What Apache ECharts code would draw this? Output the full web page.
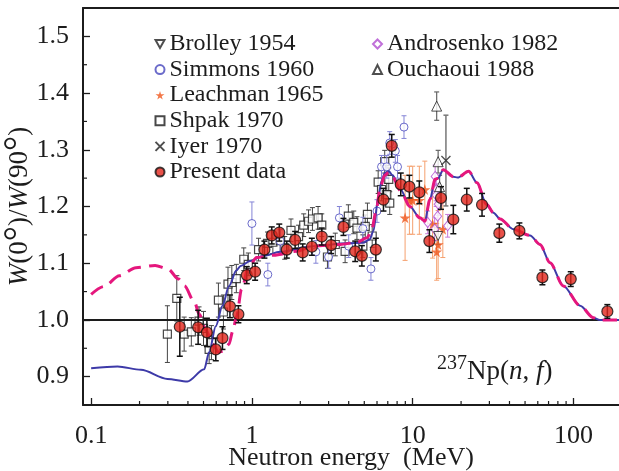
<!DOCTYPE html>
<html><head><meta charset="utf-8">
<script src="https://cdn.jsdelivr.net/npm/echarts@6/dist/echarts.min.js"></script>
<style>html,body{margin:0;padding:0;background:#fff}#c{width:619px;height:471px}</style>
</head><body><div id="c"></div>
<script>
// ---------- data (energy MeV, W(0)/W(90), error) ----------
const xTickValues = [0.1, 1, 10, 100];
const xTickLabels = ['0.1', '1', '10', '100'];
const xMinorTicks = [0.2,0.3,0.4,0.5,0.6,0.7,0.8,0.9, 2,3,4,5,6,7,8,9, 20,30,40,50,60,70,80,90];
const yMinorTicks = [0.95,1.05,1.15,1.25,1.35,1.45];

const presentData = [
[0.356,0.988,0.052],[0.463,0.987,0.03],[0.525,0.978,0.025],[0.596,0.948,0.02],[0.656,0.968,0.02],
[0.73,1.024,0.02],[0.824,1.010,0.015],[0.929,1.079,0.015],[1.047,1.085,0.015],[1.196,1.124,0.015],
[1.329,1.149,0.015],[1.48,1.154,0.015],[1.648,1.124,0.015],[1.857,1.141,0.015],[2.07,1.119,0.015],
[2.36,1.129,0.015],[2.72,1.147,0.015],[3.11,1.132,0.015],[3.71,1.164,0.015],[4.39,1.121,0.018],
[4.83,1.113,0.018],[5.9,1.124,0.02],[6.58,1.212,0.02],[7.41,1.307,0.02],[8.43,1.239,0.02],
[9.54,1.235,0.02],[11.0,1.225,0.02],[12.7,1.139,0.02],[15.0,1.215,0.02],[17.9,1.177,0.025],
[21.7,1.212,0.02],[27.0,1.203,0.02],[34.6,1.153,0.016],[46.1,1.157,0.014],[64.1,1.075,0.013],
[96.2,1.072,0.013],[162.5,1.015,0.012]
];
const shpak = [
[0.298,0.975,0.05],[0.341,1.038,0.04],[0.379,0.975,0.03],[0.42,0.979,0.025],[0.469,0.998,0.025],
[0.50,0.985,0.03],[0.542,0.948,0.025],[0.56,0.96,0.03],[0.619,1.035,0.03],[0.665,1.014,0.03],
[0.71,1.063,0.03],[0.75,1.066,0.03],[0.80,1.073,0.025],[0.89,1.107,0.02],[0.95,1.098,0.02],
[1.1,1.124,0.02],[1.25,1.135,0.02],[1.35,1.137,0.02],[1.5,1.14,0.02],[1.6,1.127,0.02],
[1.75,1.158,0.02],[1.95,1.147,0.02],[2.1,1.167,0.02],[2.25,1.174,0.02],[2.38,1.178,0.02],
[2.58,1.18,0.02],[2.72,1.167,0.02],[2.95,1.111,0.02],[3.3,1.133,0.02],[3.8,1.121,0.02],
[3.98,1.183,0.02],[4.3,1.172,0.02],[4.5,1.162,0.02],[4.9,1.13,0.02],[5.07,1.165,0.02],
[5.23,1.186,0.02],[5.6,1.148,0.02],[6.1,1.243,0.02],[6.4,1.23,0.02],[6.7,1.279,0.02],
[6.9,1.221,0.02],[7.1,1.248,0.02],[7.2,1.206,0.02]
];
const simmons = [
[1.0,1.170,0.038],[1.256,1.080,0.02],[1.5,1.139,0.02],[2.5,1.120,0.02],[3.0,1.111,0.02],
[3.5,1.18,0.02],[4.0,1.130,0.02],[4.9,1.161,0.02],[5.5,1.090,0.02],[6.0,1.192,0.02],
[6.4,1.27,0.02],[6.9,1.27,0.02],[7.2,1.312,0.02],[7.8,1.298,0.02],[8.05,1.27,0.02],[8.83,1.340,0.02]
];
const leachman = [
[8.97,1.180,0.075],[9.54,1.211,0.06],[10.0,1.211,0.06],[11.0,1.211,0.06],[11.9,1.230,0.05],
[13.3,1.169,0.06],[14.1,1.12,0.05],[14.4,1.133,0.06],[15.4,1.16,0.05]
];
const androsenko = [
[12.4,1.172,0.02],[13.7,1.16,0.02],[13.8,1.253,0.02],[14.0,1.230,0.02],[14.0,1.22,0.02],
[14.3,1.183,0.02],[14.4,1.204,0.02],[16.5,1.166,0.02]
];
const brolley = [[14.4,1.148,0.015]];
const ouchaoui = [[14.1,1.377,0.025],[14.4,1.279,0.02],[14.7,1.235,0.02]];
const iyer = [[16.1,1.281,0.08]];

const blueCurve = [
[0.1,0.915],[0.146,0.918],[0.204,0.912],[0.298,0.896],[0.397,0.8915],[0.505,0.913],[0.542,0.943],
[0.596,0.989],[0.656,1.025],[0.721,1.060],[0.8,1.087],[0.85,1.095],[0.975,1.104],[1.18,1.113],
[1.5,1.120],[2.4,1.130],[3.9,1.135],[4.9,1.136],[5.4,1.142],[5.7,1.157],[6.1,1.215],[6.4,1.245],
[6.7,1.259],[7.1,1.262],[7.5,1.255],[8.4,1.230],[9.6,1.2],[11.1,1.18],[11.9,1.174],[12.8,1.2125],
[13.8,1.248],[14.4,1.25],[15.5,1.265],[17.9,1.2525],[19,1.251],[22.3,1.262],[25.1,1.242],
[28.8,1.204],[31.8,1.189],[35,1.178],[42.3,1.16],[53.7,1.149],[61.9,1.133],[71.5,1.101],
[86.5,1.06],[110,1.025],[133,1.004],[146,1.0],[195,1.0]
];
const pinkCurve = [
[0.1,1.045],[0.12,1.059],[0.15,1.078],[0.19,1.092],[0.25,1.096],[0.3,1.09],[0.35,1.072],[0.38,1.06],
[0.44,1.031],[0.47,1.01],[0.52,0.981],[0.57,0.957],[0.62,0.943],[0.66,0.945],[0.72,0.957],[0.76,0.98],
[0.804,1.007],[0.862,1.054],[0.95,1.092],[1.07,1.11],[1.36,1.114],[1.9,1.121],[2.4,1.130],[3.55,1.133],
[4.5,1.137],[5.2,1.145],[5.55,1.157],[5.9,1.19],[6.3,1.235],[6.7,1.255],[7.1,1.26],[7.5,1.252],
[8.4,1.228],[9.6,1.2],[11.1,1.18],[11.9,1.174],[12.8,1.2125],[13.8,1.248],[14.4,1.25],[15.5,1.265],
[17.9,1.2525],[19,1.251],[22.3,1.262],[25.1,1.242],[28.8,1.204],[31.8,1.189],[35,1.178],[42.3,1.16],
[53.7,1.149],[61.9,1.133],[71.5,1.101],[86.5,1.06],[110,1.025],[133,1.004],[146,1.0],[195,1.0]
];

// ---------- chart ----------
const FONT = "'Liberation Serif', 'Times New Roman', serif";
const INK = '#1c1c1c';
const chart = echarts.init(document.getElementById('c'), null, {renderer:'canvas'});

function errSeries(name, data, color, w, cap, z){
  return {
    type:'custom', name:name, data:data, z:z, silent:true, encode:{x:0,y:1},
    renderItem:function(params, api){
      const x=api.value(0), y=api.value(1), e=api.value(2);
      const lo=api.coord([x,y-e]), hi=api.coord([x,y+e]);
      const st={stroke:color, lineWidth:w};
      return {type:'group', children:[
        {type:'line', shape:{x1:lo[0],y1:lo[1],x2:hi[0],y2:hi[1]}, style:st},
        {type:'line', shape:{x1:lo[0]-cap,y1:lo[1],x2:lo[0]+cap,y2:lo[1]}, style:st},
        {type:'line', shape:{x1:hi[0]-cap,y1:hi[1],x2:hi[0]+cap,y2:hi[1]}, style:st}
      ]};
    }
  };
}
function scat(name, data, symbol, size, style, z){
  return {type:'scatter', name:name, data:data, symbol:symbol, symbolSize:size, z:z,
    itemStyle:style, encode:{x:0,y:1}, emphasis:{disabled:true}};
}
const STAR = 'path://M50,0 L61,35 L98,35 L68,57 L79,91 L50,70 L21,91 L32,57 L2,35 L39,35 Z';
const DOWNTRI = 'path://M0,0 L10,0 L5,9 Z';
const CROSS = 'path://M0,0 L10,10 M10,0 L0,10';

const option = {
  animation:false,
  backgroundColor:'#fff',
  grid:{left:83, right:0, top:8, bottom:66, outerBoundsMode:'none', containLabel:false},
  xAxis:[{
    type:'log', logBase:10, min:0.089, max:192,
    axisLine:{lineStyle:{color:INK,width:2}},
    axisTick:{inside:true, length:7, lineStyle:{color:INK,width:1.3}},
    splitLine:{show:false},
    axisLabel:{margin:18, color:INK, fontFamily:FONT, fontSize:26, showMinLabel:false, showMaxLabel:false,
      formatter:function(v){ for(let i=0;i<xTickValues.length;i++){ if(Math.abs(v-xTickValues[i])/xTickValues[i]<1e-6) return xTickLabels[i]; } return ''; }},
    name:'Neutron energy  (MeV)', nameLocation:'middle', nameGap:40, nameMoveOverlap:false,
    nameTextStyle:{color:INK, fontFamily:FONT, fontSize:26}
  },{
    type:'log', logBase:10, min:0.089, max:192, position:'top',
    axisLine:{show:true, lineStyle:{color:INK,width:2}}, axisTick:{show:false}, axisLabel:{show:false}, splitLine:{show:false}
  }],
  yAxis:{
    type:'value', min:0.85, max:1.55, splitNumber:7,
    axisLine:{show:true, lineStyle:{color:INK,width:2}},
    axisTick:{inside:true, length:7, lineStyle:{color:INK,width:1.3}},
    splitLine:{show:false},
    axisLabel:{margin:14, color:INK, fontFamily:FONT, fontSize:26, showMinLabel:false, showMaxLabel:false,
      formatter:function(v){ return v.toFixed(1); }},
    name:'{i|W}(0{d|°})/{i|W}(90{d|°})', nameLocation:'middle', nameGap:44, nameRotate:90, nameMoveOverlap:false,
    nameTextStyle:{color:INK, fontFamily:FONT, fontSize:27, rich:{
      i:{fontStyle:'italic', fontFamily:FONT, fontSize:27, color:INK},
      d:{fontFamily:FONT, fontSize:38, color:INK}}}
  },
  legend:[{
    data:['Brolley 1954','Simmons 1960','Leachman 1965','Shpak 1970','Iyer 1970','Present data'],
    orient:'vertical', left:153, top:32, padding:0, itemWidth:9, itemHeight:9, itemGap:1.6,
    textStyle:{fontFamily:FONT, fontSize:24, color:INK, lineHeight:24}, selectedMode:false
  },{
    data:['Androsenko 1982','Ouchaoui 1988'],
    orient:'vertical', left:372, top:32, padding:0, itemWidth:9, itemHeight:9, itemGap:1.6,
    textStyle:{fontFamily:FONT, fontSize:24, color:INK, lineHeight:24}, selectedMode:false
  }],
  graphic:[{
    type:'text', left:437, top:354, silent:true,
    style:{text:'{s|237}{r|Np(}{i|n}{r|, }{i|f}{r|)}', fill:INK,
      rich:{s:{fontFamily:FONT,fontSize:20,verticalAlign:'top',lineHeight:30,fill:INK},
            r:{fontFamily:FONT,fontSize:27,lineHeight:36,fill:INK},
            i:{fontFamily:FONT,fontSize:27,fontStyle:'italic',lineHeight:36,fill:INK}}}
  }],
  series:[
    {type:'custom', name:'xminor', silent:true, z:1, data:xMinorTicks.map(v=>[v,1]), encode:{x:0,y:1},
      renderItem:function(params, api){ const p=api.coord([api.value(0),1]); const b=params.coordSys.y+params.coordSys.height;
        return {type:'line', shape:{x1:p[0],y1:b,x2:p[0],y2:b-4}, style:{stroke:INK,lineWidth:1.2}}; }},
    {type:'custom', name:'yminor', silent:true, z:1, data:yMinorTicks.map(v=>[1,v]), encode:{x:0,y:1},
      renderItem:function(params, api){ const p=api.coord([1,api.value(1)]); const l=params.coordSys.x;
        return {type:'line', shape:{x1:l,y1:p[1],x2:l+4,y2:p[1]}, style:{stroke:INK,lineWidth:1.2}}; }},
    Object.assign(errSeries('shpakErr', shpak, '#444', 1, 2.5, 2), {
      markLine:{silent:true, symbol:'none', label:{show:false}, lineStyle:{color:INK,width:2,type:'solid'}, data:[{yAxis:1.0}]}
    }),
    scat('Shpak 1970', shpak, 'rect', 8, {color:'#fff', borderColor:'#1a1a1a', borderWidth:1.2}, 3),
    errSeries('simErr', simmons, '#8484d6', 1, 2.5, 4),
    scat('Simmons 1960', simmons, 'circle', 8, {color:'#fff', borderColor:'#4646bd', borderWidth:1}, 5),
    errSeries('leaErr', leachman, '#f5a06e', 1, 2.5, 4),
    scat('Leachman 1965', leachman, STAR, 11, {color:'#f0561c'}, 5),
    errSeries('andErr', androsenko, '#c67ad8', 1, 2.5, 4),
    scat('Androsenko 1982', androsenko, 'diamond', [8,10], {color:'#fff', borderColor:'#b04ccf', borderWidth:1}, 5),
    errSeries('broErr', brolley, '#777', 1, 2.5, 4),
    scat('Brolley 1954', brolley, DOWNTRI, 9, {color:'#fff', borderColor:'#222', borderWidth:1}, 5),
    errSeries('ouErr', ouchaoui, '#666', 1.2, 2.5, 4),
    scat('Ouchaoui 1988', ouchaoui, 'triangle', 10, {color:'#fff', borderColor:'#222', borderWidth:1}, 5),
    errSeries('iyErr', iyer, '#777', 1.5, 2.5, 4),
    scat('Iyer 1970', iyer, CROSS, 9, {color:'none', borderColor:'#222', borderWidth:1.3}, 5),
    {type:'line', name:'theory', data:blueCurve, z:6, showSymbol:false, smooth:0.3, smoothMonotone:'x', silent:true,
      lineStyle:{color:'#3d3aa8', width:2}},
    {type:'line', name:'theory2', data:pinkCurve, z:7, showSymbol:false, smooth:0.3, smoothMonotone:'x', silent:true,
      lineStyle:{color:'#e5177d', width:3, type:[14,8]}},
    errSeries('presErr', presentData, '#111', 1.5, 3, 8),
    scat('Present data', presentData, 'circle', 11, {color:'#e2261b', borderColor:'#111', borderWidth:1.2}, 9)
  ]
};
chart.setOption(option);
</script></body></html>
